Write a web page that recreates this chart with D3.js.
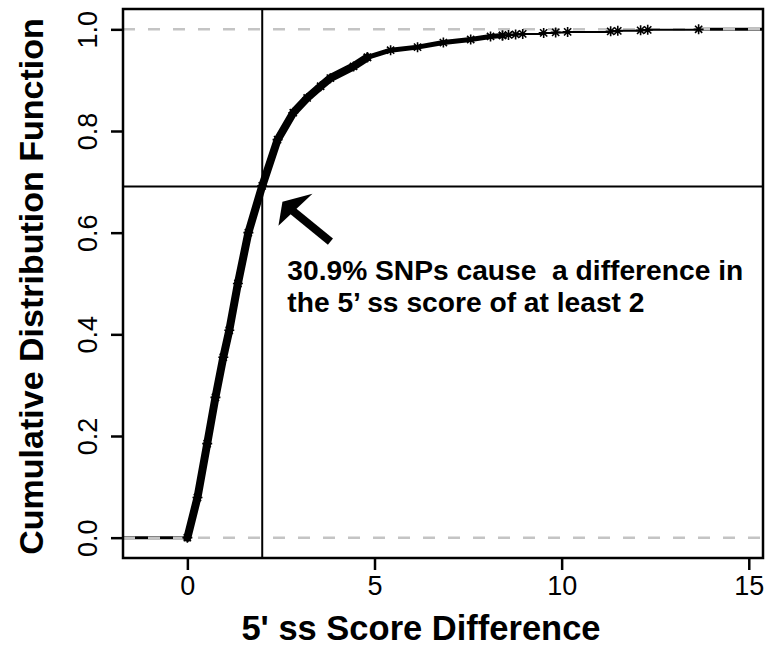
<!DOCTYPE html>
<html>
<head>
<meta charset="utf-8">
<script src="https://cdn.jsdelivr.net/npm/d3@7"></script>
<style>
  body { margin: 0; background: #fff; }
  svg text { font-family: "Liberation Sans", Arial, Helvetica, sans-serif; }
</style>
</head>
<body>
<div id="chart"></div>
<script>
// ECDF: dense part (score difference, cumulative fraction)
var denseX = [0, 0.27, 0.53, 0.75, 0.96, 1.12, 1.35, 1.63, 2.0, 2.41, 2.83, 3.2, 3.56, 3.82, 4.44, 4.81];
var denseY = [0, 0.079, 0.185, 0.276, 0.355, 0.408, 0.5, 0.6, 0.692, 0.783, 0.836, 0.865, 0.888, 0.904, 0.927, 0.945];
// thinner middle part
var midX = [4.81, 5.43, 6.15, 6.84, 7.57, 8.1, 8.42];
var midY = [0.945, 0.959, 0.965, 0.974, 0.980, 0.986, 0.988];
// sparse tail points (each drawn as a star)
var tailX = [8.42, 8.58, 8.77, 8.96, 9.52, 9.84, 10.16, 11.31, 11.5, 12.11, 12.3, 13.66];
var tailY = [0.988, 0.989, 0.990, 0.991, 0.993, 0.994, 0.995, 0.996, 0.997, 0.998, 0.999, 1.0];

var xTicks = [0, 5, 10, 15];
var yTicks = [0, 0.2, 0.4, 0.6, 0.8, 1.0];
var cutX = 2;       // vertical reference line
var cutY = 0.691;   // horizontal reference line (1 - 30.9%)
var noteLines = ["30.9% SNPs cause  a difference in", "the 5\u2019 ss score of at least 2"];

var W = 770, H = 650;
var pLeft = 123, pRight = 763, pTop = 9, pBottom = 558;

var x = d3.scaleLinear().domain([-1.72, 15.38]).range([pLeft, pRight]);
var y = d3.scaleLinear().domain([-0.04, 1.04]).range([pBottom, pTop]);

var svg = d3.select("#chart").append("svg")
    .attr("width", W).attr("height", H);

var plot = svg.append("g");

// black ECDF end segments (under the grey dashed lines)
plot.append("line")
    .attr("x1", pLeft).attr("x2", x(denseX[0]))
    .attr("y1", y(0)).attr("y2", y(0))
    .attr("stroke", "#000").attr("stroke-width", 3);
plot.append("line")
    .attr("x1", x(tailX[tailX.length - 1])).attr("x2", pRight)
    .attr("y1", y(1)).attr("y2", y(1))
    .attr("stroke", "#000").attr("stroke-width", 3);

// grey dashed lines at 0 and 1
plot.selectAll(".hline").data([0, 1]).enter().append("line")
    .attr("class", "hline")
    .attr("x1", pLeft).attr("x2", pRight)
    .attr("y1", function(d) { return y(d); })
    .attr("y2", function(d) { return y(d); })
    .attr("stroke", "#c4c4c4").attr("stroke-width", 2.5)
    .attr("stroke-dasharray", "12,13");

// reference lines
plot.append("line")
    .attr("x1", x(cutX)).attr("x2", x(cutX))
    .attr("y1", pTop).attr("y2", pBottom)
    .attr("stroke", "#000").attr("stroke-width", 2);
plot.append("line")
    .attr("x1", pLeft).attr("x2", pRight)
    .attr("y1", y(cutY)).attr("y2", y(cutY))
    .attr("stroke", "#000").attr("stroke-width", 2);

var line = d3.line()
    .x(function(d) { return x(d[0]); })
    .y(function(d) { return y(d[1]); });

var dense = d3.zip(denseX, denseY);
var mid = d3.zip(midX, midY);
var tail = d3.zip(tailX, tailY);

plot.append("path").datum(dense)
    .attr("d", line)
    .attr("fill", "none").attr("stroke", "#000")
    .attr("stroke-width", 8).attr("stroke-linejoin", "round").attr("stroke-linecap", "round");
plot.append("path").datum(mid)
    .attr("d", line)
    .attr("fill", "none").attr("stroke", "#000")
    .attr("stroke-width", 5).attr("stroke-linejoin", "round").attr("stroke-linecap", "round");
plot.append("path").datum(tail)
    .attr("d", line.curve(d3.curveStepAfter))
    .attr("fill", "none").attr("stroke", "#000")
    .attr("stroke-width", 2);

// asterisk markers (pch 8)
var star = "M-5,0H5M0,-5V5M-3.6,-3.6L3.6,3.6M-3.6,3.6L3.6,-3.6";
plot.selectAll(".pt").data(dense.concat(mid, tail)).enter().append("path")
    .attr("class", "pt")
    .attr("transform", function(d) { return "translate(" + x(d[0]) + "," + y(d[1]) + ")"; })
    .attr("d", star)
    .attr("stroke", "#000").attr("stroke-width", 1.6).attr("fill", "none");

// box
svg.append("rect")
    .attr("x", pLeft).attr("y", pTop)
    .attr("width", pRight - pLeft).attr("height", pBottom - pTop)
    .attr("fill", "none").attr("stroke", "#000").attr("stroke-width", 2.5);

// x axis
var xAxis = svg.append("g")
    .attr("transform", "translate(0," + pBottom + ")")
    .call(d3.axisBottom(x).tickValues(xTicks).tickSize(12).tickPadding(6).tickFormat(d3.format("d")));
xAxis.select(".domain").remove();
xAxis.selectAll("line").attr("stroke-width", 2.5);
xAxis.selectAll("text").attr("font-size", 27).attr("fill", "#000");

// y axis, labels rotated like R
var yAxis = svg.append("g")
    .attr("transform", "translate(" + pLeft + ",0)")
    .call(d3.axisLeft(y).tickValues(yTicks).tickSize(12).tickFormat(d3.format(".1f")));
yAxis.select(".domain").remove();
yAxis.selectAll("line").attr("stroke-width", 2.5);
yAxis.selectAll("text")
    .attr("font-size", 27).attr("fill", "#000")
    .attr("x", null).attr("dy", null)
    .attr("text-anchor", "middle")
    .attr("transform", "translate(-26,0) rotate(-90)");

// axis titles
svg.append("text")
    .attr("x", 421).attr("y", 640)
    .attr("text-anchor", "middle")
    .attr("font-size", 34.5).attr("font-weight", "bold")
    .text("5' ss Score Difference");
svg.append("text")
    .attr("transform", "translate(43," + ((pTop + pBottom) / 2 + 3) + ") rotate(-90)")
    .attr("text-anchor", "middle")
    .attr("font-size", 34).attr("font-weight", "bold")
    .text("Cumulative Distribution Function");

// arrow annotation
var tip = [x(2.54), y(0.661)];
svg.append("line")
    .attr("x1", tip[0] + 10).attr("y1", tip[1] + 9)
    .attr("x2", tip[0] + 48).attr("y2", tip[1] + 40)
    .attr("stroke", "#000").attr("stroke-width", 8);
svg.append("path")
    .attr("d", "M" + tip[0] + "," + tip[1] +
        "L" + (tip[0] + 30) + "," + (tip[1] - 8) +
        "L" + (tip[0] - 4) + "," + (tip[1] + 24) + "Z")
    .attr("fill", "#000");

svg.selectAll(".note").data(noteLines).enter().append("text")
    .attr("class", "note")
    .attr("x", x(2.67))
    .attr("y", function(d, i) { return y(0.507) + i * 32; })
    .attr("font-size", 28.2).attr("font-weight", "bold")
    .style("white-space", "pre")
    .text(function(d) { return d; });
</script>
</body>
</html>
